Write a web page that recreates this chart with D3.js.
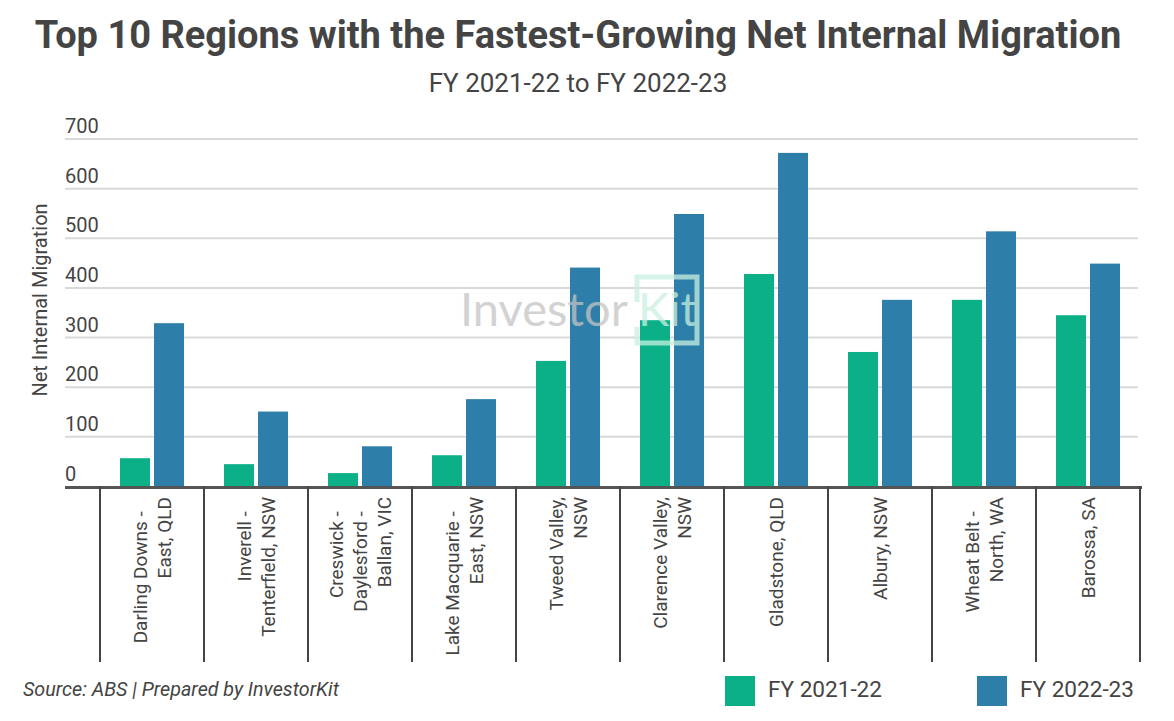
<!DOCTYPE html>
<html>
<head>
<meta charset="utf-8">
<script src="https://cdn.jsdelivr.net/npm/d3@7"></script>
<style>
  body { margin: 0; background: #fff; }
  svg { display: block; font-family: Roboto, "Noto Sans", sans-serif; }
</style>
</head>
<body>
<div id="chart"></div>
<script>
// data
var regions = [
  ["Darling Downs -", "East, QLD"],
  ["Inverell -", "Tenterfield, NSW"],
  ["Creswick -", "Daylesford -", "Ballan, VIC"],
  ["Lake Macquarie -", "East, NSW"],
  ["Tweed Valley,", "NSW"],
  ["Clarence Valley,", "NSW"],
  ["Gladstone, QLD"],
  ["Albury, NSW"],
  ["Wheat Belt -", "North, WA"],
  ["Barossa, SA"]
];
var seriesNames = ["FY 2021-22", "FY 2022-23"];
var fy2122 = [57, 45, 27, 63, 253, 335, 428, 271, 376, 345];
var fy2223 = [329, 151, 81, 176, 441, 549, 672, 376, 514, 449];
var yTicks = [0, 100, 200, 300, 400, 500, 600, 700];
var colors = ["#0bb087", "#2d7ea9"];

var width = 1174, height = 721;
var svg = d3.select("#chart").append("svg")
  .attr("width", width).attr("height", height);

var keys = regions.map(function(r, i) { return "r" + i; });
var rows = keys.map(function(k, i) { return { key: k, values: [fy2122[i], fy2223[i]] }; });

var x0 = d3.scaleBand().domain(keys).range([100, 1140]).padding(0);
var bw = x0.bandwidth();
var x1 = d3.scaleBand().domain(seriesNames)
  .range([bw / 2 - 32, bw / 2 + 32]).paddingInner(0.1176);
var y = d3.scaleLinear().domain([0, 700]).range([486.5, 139]);

// title
svg.append("text").attr("x", 578).attr("y", 48)
  .attr("text-anchor", "middle").attr("font-size", 38).attr("font-weight", "bold")
  .attr("fill", "#444").text("Top 10 Regions with the Fastest-Growing Net Internal Migration");
svg.append("text").attr("x", 578).attr("y", 92)
  .attr("text-anchor", "middle").attr("font-size", 26)
  .attr("fill", "#444").text("FY 2021-22 to FY 2022-23");

// gridlines + tick labels
var grid = svg.append("g");
grid.selectAll("line").data(yTicks.filter(function(t) { return t > 0; })).enter().append("line")
  .attr("x1", 65).attr("x2", 1138)
  .attr("y1", function(d) { return y(d); }).attr("y2", function(d) { return y(d); })
  .attr("stroke", "#d9d9d9").attr("stroke-width", 2);
grid.selectAll("text").data(yTicks).enter().append("text")
  .attr("x", 65).attr("y", function(d) { return y(d) - 6; })
  .attr("font-size", 20).attr("fill", "#444").text(function(d) { return d; });

svg.append("text")
  .attr("transform", "translate(47,300) rotate(-90)")
  .attr("text-anchor", "middle").attr("font-size", 20).attr("fill", "#444")
  .text("Net Internal Migration");

// bars
var groups = svg.selectAll("g.cat").data(rows).enter().append("g")
  .attr("class", "cat")
  .attr("transform", function(d) { return "translate(" + x0(d.key) + ",0)"; });
groups.selectAll("rect").data(function(d) {
    return d.values.map(function(v, i) { return { name: seriesNames[i], value: v, i: i }; });
  }).enter().append("rect")
  .attr("x", function(d) { return x1(d.name); })
  .attr("width", x1.bandwidth())
  .attr("y", function(d) { return y(d.value); })
  .attr("height", function(d) { return y(0) - y(d.value); })
  .attr("fill", function(d) { return colors[d.i]; });

// watermark
var wm = svg.append("g").attr("opacity", 0.75);
wm.append("text").attr("x", 460).attr("y", 326).attr("font-size", 47)
  .attr("fill", "#c4c4c4").attr("font-family", "Lato, Roboto, sans-serif").text("Investor");
wm.append("text").attr("x", 638).attr("y", 326).attr("font-size", 47)
  .attr("fill", "#c8f0e0").attr("font-family", "Lato, Roboto, sans-serif").text("Kit");
wm.append("path")
  .attr("d", "M637,302 V277 H697 V343 H637 V327")
  .attr("fill", "none").attr("stroke", "#c8f0e0").attr("stroke-width", 5);

// x axis: baseline and separators
svg.append("line").attr("x1", 65).attr("x2", 1142)
  .attr("y1", y(0) + 1).attr("y2", y(0) + 1)
  .attr("stroke", "#555").attr("stroke-width", 3);
var seps = keys.map(function(k) { return x0(k); }).concat([x0.range()[1]]);
svg.selectAll("line.sep").data(seps).enter().append("line")
  .attr("class", "sep")
  .attr("x1", function(d) { return d; }).attr("x2", function(d) { return d; })
  .attr("y1", y(0)).attr("y2", 662)
  .attr("stroke", "#444").attr("stroke-width", 2);

// category labels, rotated, end-aligned at the top
var lineGap = 24;
groups.each(function(d, i) {
  var lines = regions[i];
  var n = lines.length;
  var g = d3.select(this).append("text")
    .attr("transform", "translate(" + (bw / 2) + ",497) rotate(-90)")
    .attr("text-anchor", "end").attr("font-size", 19).attr("fill", "#444");
  lines.forEach(function(t, j) {
    var pad = /-$/.test(t) ? "\u00a0\u00a0\u00a0" : "";
    g.append("tspan").attr("x", 0)
      .attr("y", (j - (n - 1) / 2) * lineGap + 7)
      .text(t + pad);
  });
});

// footer
svg.append("text").attr("x", 23).attr("y", 696)
  .attr("font-size", 20).attr("font-style", "italic").attr("fill", "#444")
  .attr("textLength", 316).attr("lengthAdjust", "spacingAndGlyphs")
  .text("Source: ABS | Prepared by InvestorKit");

var legX = [725, 977];
var leg = svg.selectAll("g.leg").data(seriesNames).enter().append("g")
  .attr("class", "leg")
  .attr("transform", function(d, i) { return "translate(" + legX[i] + ",676)"; });
leg.append("rect").attr("width", 30).attr("height", 30)
  .attr("fill", function(d, i) { return colors[i]; });
leg.append("text").attr("x", 43).attr("y", 21)
  .attr("font-size", 22).attr("fill", "#444")
  .attr("textLength", 114).attr("lengthAdjust", "spacingAndGlyphs")
  .text(function(d) { return d; });
</script>
</body>
</html>
